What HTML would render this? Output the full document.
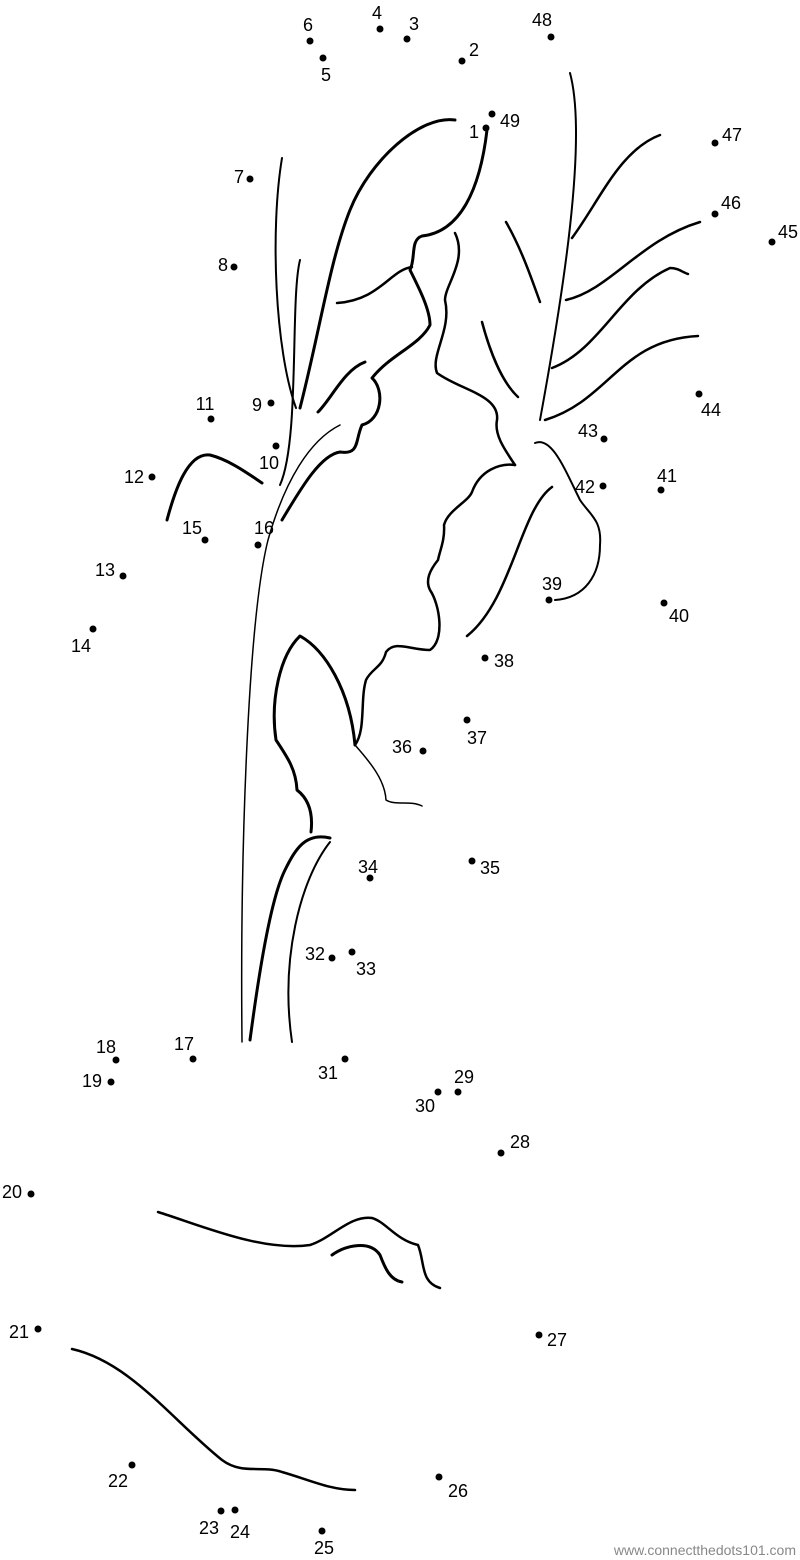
<!DOCTYPE html>
<html><head><meta charset="utf-8"><style>
html,body{margin:0;padding:0;background:#fff;}
svg{display:block;}
text{font-family:"Liberation Sans",sans-serif;font-size:18px;fill:#000;}
</style></head><body>
<svg width="800" height="1560" viewBox="0 0 800 1560" xmlns="http://www.w3.org/2000/svg">
<g fill="none" stroke="#000" stroke-linecap="round" stroke-linejoin="round">
<path stroke-width="1.5" d="M242,1042 C240,850 248,620 268,540 C285,480 310,440 340,425"/>
<path stroke-width="3" d="M487,130 C480,190 460,232 422,236 C410,240 416,258 410,270 C420,290 430,310 430,325 C420,345 390,355 372,378 C385,390 382,420 362,425 C355,440 360,455 340,452 C320,455 300,490 282,520"/>
<path stroke-width="3" d="M455,120 C420,115 370,160 350,210 C330,260 320,330 300,408"/>
<path stroke-width="2" d="M282,158 C270,230 275,350 296,408"/>
<path stroke-width="2" d="M280,485 C300,440 290,300 300,260"/>
<path stroke-width="2.5" d="M412,267 C390,270 380,300 337,303"/>
<path stroke-width="2.5" d="M455,233 C468,260 445,285 445,300 C452,330 430,355 437,373 C460,390 500,395 497,420 C494,435 505,450 515,465"/>
<path stroke-width="2" d="M570,73 C588,140 562,300 540,420"/>
<path stroke-width="2" d="M535,443 C552,436 565,470 580,500 C590,515 602,520 600,545 C600,575 585,598 555,600"/>
<path stroke-width="2.5" d="M515,465 C500,463 480,470 472,492 C468,502 448,510 444,525 C445,540 440,550 438,560 C430,570 425,580 430,590 C440,605 445,640 430,650 C410,650 395,640 386,652 C382,668 372,668 366,680 C360,700 366,730 355,745"/>
<path stroke-width="2.5" d="M552,487 C520,510 512,600 467,636"/>
<path stroke-width="3" d="M355,745 C350,690 325,650 300,636 C280,655 270,700 276,740 C288,758 296,770 297,790 C310,800 313,815 311,832"/>
<path stroke-width="1.5" d="M355,745 C370,762 385,780 386,800 C396,806 410,800 422,806"/>
<path stroke-width="3" d="M330,838 C305,832 295,850 285,870 C270,900 258,980 250,1040"/>
<path stroke-width="2" d="M330,842 C300,880 280,960 292,1042"/>
<path stroke-width="2.5" d="M572,238 C600,200 620,150 660,135"/>
<path stroke-width="2.5" d="M566,300 C610,290 640,240 700,222"/>
<path stroke-width="2.5" d="M552,368 C600,350 620,290 670,268 C678,268 682,272 688,274"/>
<path stroke-width="2.5" d="M545,420 C610,400 620,340 698,336"/>
<path stroke-width="2.5" d="M506,222 C522,250 532,280 540,302"/>
<path stroke-width="2.5" d="M482,322 C490,352 502,382 518,397"/>
<path stroke-width="3" d="M167,520 C175,490 188,452 210,455 C230,460 250,475 262,483"/>
<path stroke-width="3" d="M318,412 C332,398 344,370 365,362"/>
<path stroke-width="2.5" d="M158,1212 C200,1225 262,1252 310,1245 C332,1238 350,1215 372,1218 C386,1222 396,1240 418,1245 C425,1262 420,1282 440,1288"/>
<path stroke-width="3" d="M332,1255 C346,1245 370,1240 380,1255 C385,1268 390,1280 402,1282"/>
<path stroke-width="2.5" d="M72,1349 C130,1362 172,1420 222,1460 C242,1475 262,1465 282,1472 C310,1480 330,1490 355,1490"/>
</g>
<g fill="#000">
<circle cx="486" cy="128" r="3.5"/><circle cx="492" cy="114" r="3.5"/><circle cx="462" cy="61" r="3.5"/>
<circle cx="407" cy="39" r="3.5"/><circle cx="380" cy="29" r="3.5"/><circle cx="323" cy="58" r="3.5"/>
<circle cx="310" cy="41" r="3.5"/><circle cx="551" cy="37" r="3.5"/><circle cx="715" cy="143" r="3.5"/>
<circle cx="715" cy="214" r="3.5"/><circle cx="772" cy="242" r="3.5"/><circle cx="250" cy="179" r="3.5"/>
<circle cx="234" cy="267" r="3.5"/><circle cx="271" cy="403" r="3.5"/><circle cx="276" cy="446" r="3.5"/>
<circle cx="211" cy="419" r="3.5"/><circle cx="152" cy="477" r="3.5"/><circle cx="123" cy="576" r="3.5"/>
<circle cx="93" cy="629" r="3.5"/><circle cx="205" cy="540" r="3.5"/><circle cx="258" cy="545" r="3.5"/>
<circle cx="699" cy="394" r="3.5"/><circle cx="604" cy="439" r="3.5"/><circle cx="603" cy="486" r="3.5"/>
<circle cx="661" cy="490" r="3.5"/><circle cx="549" cy="600" r="3.5"/><circle cx="664" cy="603" r="3.5"/>
<circle cx="485" cy="658" r="3.5"/><circle cx="467" cy="720" r="3.5"/><circle cx="423" cy="751" r="3.5"/>
<circle cx="472" cy="861" r="3.5"/><circle cx="370" cy="878" r="3.5"/><circle cx="332" cy="958" r="3.5"/>
<circle cx="352" cy="952" r="3.5"/><circle cx="193" cy="1059" r="3.5"/><circle cx="116" cy="1060" r="3.5"/>
<circle cx="111" cy="1082" r="3.5"/><circle cx="345" cy="1059" r="3.5"/><circle cx="458" cy="1092" r="3.5"/>
<circle cx="438" cy="1092" r="3.5"/><circle cx="501" cy="1153" r="3.5"/><circle cx="31" cy="1194" r="3.5"/>
<circle cx="38" cy="1329" r="3.5"/><circle cx="539" cy="1335" r="3.5"/><circle cx="132" cy="1465" r="3.5"/>
<circle cx="439" cy="1477" r="3.5"/><circle cx="221" cy="1511" r="3.5"/><circle cx="235" cy="1510" r="3.5"/>
<circle cx="322" cy="1531" r="3.5"/>
</g>
<g text-anchor="middle">
<text x="474" y="138">1</text><text x="510" y="127">49</text><text x="474" y="56">2</text>
<text x="414" y="30">3</text><text x="377" y="19">4</text><text x="326" y="81">5</text>
<text x="308" y="31">6</text><text x="542" y="26">48</text><text x="732" y="141">47</text>
<text x="731" y="209">46</text><text x="788" y="238">45</text><text x="239" y="183">7</text>
<text x="223" y="271">8</text><text x="257" y="411">9</text><text x="269" y="469">10</text>
<text x="205" y="410">11</text><text x="134" y="483">12</text><text x="105" y="576">13</text>
<text x="81" y="652">14</text><text x="192" y="534">15</text><text x="264" y="534">16</text>
<text x="711" y="416">44</text><text x="588" y="437">43</text><text x="585" y="493">42</text>
<text x="667" y="482">41</text><text x="552" y="590">39</text><text x="679" y="622">40</text>
<text x="504" y="667">38</text><text x="477" y="744">37</text><text x="402" y="753">36</text>
<text x="490" y="874">35</text><text x="368" y="873">34</text><text x="315" y="960">32</text>
<text x="366" y="975">33</text><text x="184" y="1050">17</text><text x="106" y="1053">18</text>
<text x="92" y="1087">19</text><text x="328" y="1079">31</text><text x="464" y="1083">29</text>
<text x="425" y="1112">30</text><text x="520" y="1148">28</text><text x="12" y="1198">20</text>
<text x="19" y="1338">21</text><text x="557" y="1346">27</text><text x="118" y="1487">22</text>
<text x="458" y="1497">26</text><text x="209" y="1534">23</text><text x="240" y="1538">24</text>
<text x="324" y="1554">25</text>
</g>
<text x="796" y="1555" text-anchor="end" style="font-size:14px;fill:#888;">www.connectthedots101.com</text>
</svg>
</body></html>
